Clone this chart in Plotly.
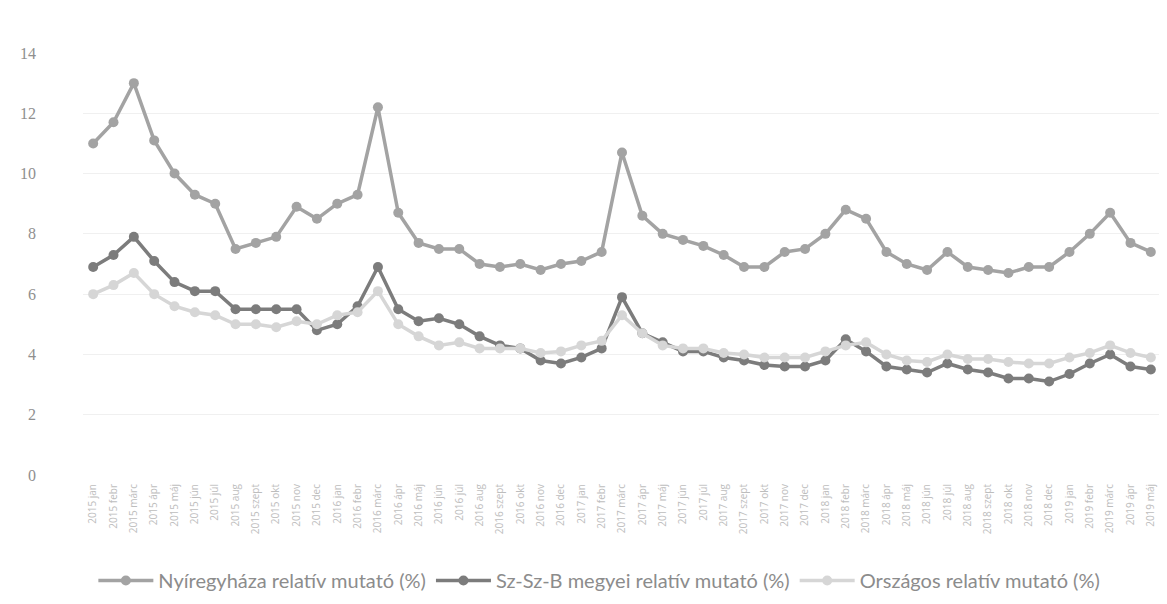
import plotly.graph_objects as go

months = ["jan", "febr", "márc", "ápr", "máj", "jún", "júl", "aug", "szept", "okt", "nov", "dec"]
categories = [f"{y} {m}" for y in range(2015, 2020) for m in months][:53]

nyiregyhaza = [11.0, 11.7, 13.0, 11.1, 10.0, 9.3, 9.0, 7.5, 7.7, 7.9, 8.9, 8.5,
               9.0, 9.3, 12.2, 8.7, 7.7, 7.5, 7.5, 7.0, 6.9, 7.0, 6.8, 7.0,
               7.1, 7.4, 10.7, 8.6, 8.0, 7.8, 7.6, 7.3, 6.9, 6.9, 7.4,
               7.5, 8.0, 8.8, 8.5, 7.4, 7.0, 6.8, 7.4, 6.9, 6.8, 6.7, 6.9, 6.9,
               7.4, 8.0, 8.7, 7.7, 7.4]
megyei = [6.9, 7.3, 7.9, 7.1, 6.4, 6.1, 6.1, 5.5, 5.5, 5.5, 5.5, 4.8,
          5.0, 5.6, 6.9, 5.5, 5.1, 5.2, 5.0, 4.6, 4.3, 4.2, 3.8, 3.7,
          3.9, 4.2, 5.9, 4.7, 4.4, 4.1, 4.1, 3.9, 3.8, 3.65, 3.6,
          3.6, 3.8, 4.5, 4.1, 3.6, 3.5, 3.4, 3.7, 3.5, 3.4, 3.2, 3.2, 3.1,
          3.35, 3.7, 4.0, 3.6, 3.5]
orszagos = [6.0, 6.3, 6.7, 6.0, 5.6, 5.4, 5.3, 5.0, 5.0, 4.9, 5.1, 5.0,
            5.3, 5.4, 6.1, 5.0, 4.6, 4.3, 4.4, 4.2, 4.2, 4.2, 4.05, 4.1,
            4.3, 4.45, 5.3, 4.7, 4.3, 4.2, 4.2, 4.05, 4.0, 3.9, 3.9,
            3.9, 4.1, 4.3, 4.4, 4.0, 3.8, 3.75, 4.0, 3.85, 3.85, 3.75, 3.7, 3.7,
            3.9, 4.05, 4.3, 4.05, 3.9]

series = [
    ("Nyíregyháza relatív mutató (%)", nyiregyhaza, "#a3a3a3"),
    ("Sz-Sz-B megyei relatív mutató (%)", megyei, "#7c7c7c"),
    ("Országos relatív mutató (%)", orszagos, "#d6d6d6"),
]

fig = go.Figure()
for name, vals, col in series:
    fig.add_trace(go.Scatter(
        x=categories, y=vals, name=name, mode="lines+markers",
        line=dict(color=col, width=3.5),
        marker=dict(color=col, size=10),
    ))

fig.update_layout(
    width=1167, height=604,
    margin=dict(l=75, r=14, t=45, b=129),
    paper_bgcolor="white", plot_bgcolor="white",
    font=dict(family="Lato, sans-serif", color="#8c8c8c"),
    showlegend=True,
    legend=dict(orientation="h", x=0.479, xanchor="center", y=-0.25, yanchor="middle",
                font=dict(size=20, color="#8c8c8c"), itemwidth=55, tracegroupgap=0),
    xaxis=dict(type="category", range=[-0.5, 52.5], tickangle=-90,
               tickfont=dict(size=10, color="#bdbdbd", family="Open Sans"),
               showgrid=False, showline=False, ticks="", ticklabelstandoff=6),
    yaxis=dict(range=[0, 14], dtick=2, showgrid=True, gridcolor="#f0f0f0",
               zeroline=False, showline=False,
               tickfont=dict(size=16, color="#8f8f8f", family="Liberation Serif"),
               ticklabelstandoff=46),
)

fig.write_html("out.html")
